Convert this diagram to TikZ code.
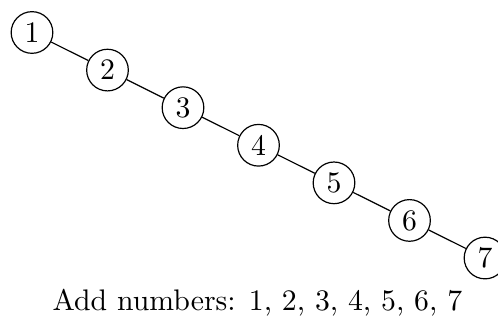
\documentclass[tikz,border=0pt]{standalone}
\begin{document}
\begin{tikzpicture}[x=1pt,y=1pt,
  num/.style={draw,circle,inner sep=0pt,minimum size=14pt}]
\useasboundingbox (0,0) rectangle (167.34,-109.21);
\node[num] (n1) at (10.75,-10.92) {1};
\node[num] (n2) at (36.12,-23.55) {2};
\node[num] (n3) at (61.49,-36.18) {3};
\node[num] (n4) at (86.86,-48.81) {4};
\node[num] (n5) at (112.23,-61.44) {5};
\node[num] (n6) at (137.60,-74.07) {6};
\node[num] (n7) at (162.97,-86.70) {7};
\draw (n1) -- (n2) -- (n3) -- (n4) -- (n5) -- (n6) -- (n7);
\node[anchor=base] (cap) at (86.5,-104.5) {Add numbers: 1, 2, 3, 4, 5, 6, 7};
\end{tikzpicture}
\end{document}
